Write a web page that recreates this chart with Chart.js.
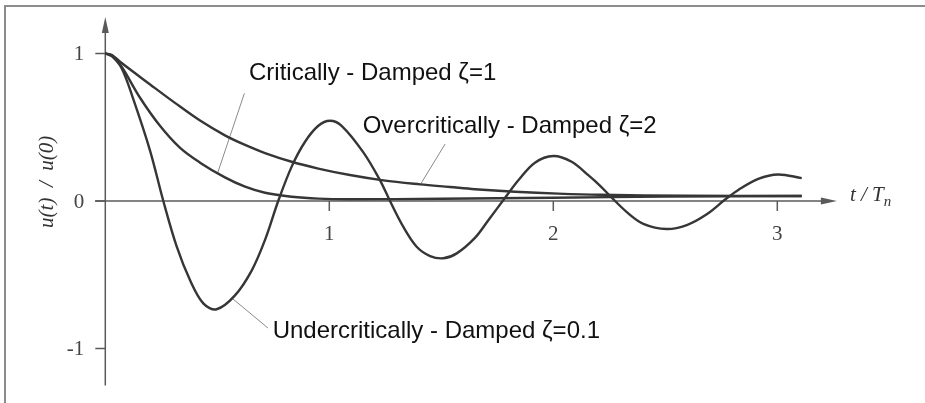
<!DOCTYPE html>
<html>
<head>
<meta charset="utf-8">
<script src="https://cdn.jsdelivr.net/npm/chart.js@4/dist/chart.umd.min.js"></script>
<style>
  html, body { margin: 0; padding: 0; background: #fff; }
  #wrap { position: relative; width: 925px; height: 403px; overflow: hidden; }
  #frame { position: absolute; left: 4px; top: 5px; width: 940px; height: 420px;
           border-top: 2px solid #8c8c8c; border-left: 2px solid #8c8c8c; pointer-events: none; }
  canvas { position: absolute; left: 0; top: 0; }
</style>
</head>
<body>
<div id="wrap">
  <canvas id="c" width="925" height="403"></canvas>
  <div id="frame"></div>
</div>
<script>
// Free-vibration response u(t)/u(0) against t/Tn for three damping ratios.

// Undercritically damped, zeta = 0.1
const underT = [0, 0.03, 0.073, 0.125, 0.2, 0.259, 0.319, 0.378, 0.4375, 0.497, 0.579, 0.654, 0.713,
  0.772, 0.832, 0.891, 0.951, 1.003, 1.055, 1.152, 1.226, 1.271, 1.33, 1.39, 1.45, 1.509, 1.569,
  1.65, 1.71, 1.784, 1.844, 1.918, 2.0, 2.082, 2.156, 2.208, 2.253, 2.328, 2.402, 2.506, 2.596,
  2.685, 2.767, 2.826, 2.915, 3.004, 3.109];
const underU = [1.0, 0.98, 0.90, 0.69, 0.34, 0.0, -0.31, -0.536, -0.694, -0.734, -0.64, -0.47, -0.264,
  0.0, 0.233, 0.40, 0.51, 0.544, 0.51, 0.33, 0.142, 0.0, -0.174, -0.31, -0.373, -0.388, -0.355,
  -0.25, -0.13, 0.02, 0.14, 0.26, 0.305, 0.266, 0.175, 0.105, 0.035, -0.075, -0.155, -0.19, -0.163,
  -0.09, 0.01, 0.075, 0.15, 0.18, 0.155];

// Critically damped, zeta = 1
const critT = [0, 0.03, 0.073, 0.155, 0.244, 0.334, 0.423, 0.534, 0.624, 0.713, 0.832, 0.951, 1.092,
  1.5, 2.0, 2.5, 3.109];
const critU = [1.0, 0.985, 0.91, 0.70, 0.51, 0.36, 0.26, 0.16, 0.097, 0.056, 0.029, 0.016, 0.012,
  0.015, 0.022, 0.03, 0.034];

// Overcritically damped, zeta = 2
const overT = [0, 0.03, 0.073, 0.2, 0.311, 0.423, 0.534, 0.624, 0.713, 0.832, 0.951, 1.092, 1.241,
  1.405, 1.539, 1.65, 1.829, 2.022, 2.208, 2.6, 3.109];
const overU = [1.0, 0.99, 0.935, 0.79, 0.665, 0.545, 0.445, 0.38, 0.325, 0.266, 0.22, 0.176, 0.14,
  0.113, 0.095, 0.08, 0.063, 0.05, 0.042, 0.036, 0.034];

// Axis ticks
const xTickValues = [1, 2, 3];
const xTickLabels = ['1', '2', '3'];
const yTickValues = [1, 0, -1];
const yTickLabels = ['1', '0', '-1'];

// Curve names
const curveNames = ['Critically - Damped \u03b6=1', 'Overcritically - Damped \u03b6=2',
  'Undercritically - Damped \u03b6=0.1'];

function pts(ts, us) { return ts.map((t, i) => ({ x: t, y: us[i] })); }

// Where each name sits (data units) and the short pointer line from name to curve
const annotations = [
  { text: curveNames[0], at: { x: 0.6415, y: 0.820 }, leader: [{ x: 0.621, y: 0.73 }, { x: 0.50, y: 0.183 }] },
  { text: curveNames[1], at: { x: 1.149, y: 0.461 }, leader: [{ x: 1.517, y: 0.386 }, { x: 1.408, y: 0.115 }] },
  { text: curveNames[2], at: { x: 0.747, y: -0.931 }, leader: [{ x: 0.570, y: -0.664 }, { x: 0.726, y: -0.861 }] }
];

const curveStyle = {
  borderColor: '#363636', borderWidth: 2.4, pointRadius: 0, fill: false, tension: 0.35
};
const leaderStyle = { borderColor: '#8a8a8a', borderWidth: 1, pointRadius: 0, fill: false, tension: 0 };

const axisColor = '#5a5a5a';

const axesPlugin = {
  id: 'axesPlugin',
  beforeDatasetsDraw(chart) {
    const { ctx, scales: { x, y } } = chart;
    const x0 = x.getPixelForValue(0);
    const y0 = y.getPixelForValue(0);
    ctx.save();
    ctx.strokeStyle = axisColor;
    ctx.fillStyle = axisColor;
    ctx.lineWidth = 1.5;

    // horizontal axis with arrow
    const xStart = x.getPixelForValue(-0.046);
    const xTip = x.getPixelForValue(3.266);
    ctx.beginPath();
    ctx.moveTo(xStart, y0);
    ctx.lineTo(xTip - 14, y0);
    ctx.stroke();
    ctx.beginPath();
    ctx.moveTo(xTip, y0);
    ctx.lineTo(xTip - 16, y0 - 3.5);
    ctx.lineTo(xTip - 16, y0 + 3.5);
    ctx.closePath();
    ctx.fill();

    // vertical axis with arrow
    const yBottom = y.getPixelForValue(-1.25);
    const yTip = y.getPixelForValue(1.247);
    ctx.beginPath();
    ctx.moveTo(x0, yBottom);
    ctx.lineTo(x0, yTip + 14);
    ctx.stroke();
    ctx.beginPath();
    ctx.moveTo(x0, yTip);
    ctx.lineTo(x0 - 3.5, yTip + 16);
    ctx.lineTo(x0 + 3.5, yTip + 16);
    ctx.closePath();
    ctx.fill();

    // ticks
    ctx.beginPath();
    yTickValues.forEach(v => {
      const py = y.getPixelForValue(v);
      ctx.moveTo(x0 - 10, py);
      ctx.lineTo(x0, py);
    });
    xTickValues.forEach(v => {
      const px = x.getPixelForValue(v);
      ctx.moveTo(px, y0);
      ctx.lineTo(px, y0 + 10);
    });
    ctx.stroke();

    // tick labels
    ctx.fillStyle = '#444';
    ctx.font = '21px "Liberation Serif", "DejaVu Serif", serif';
    ctx.textAlign = 'right';
    ctx.textBaseline = 'middle';
    yTickValues.forEach((v, i) => {
      ctx.fillText(yTickLabels[i], x0 - 21, y.getPixelForValue(v) + 1);
    });
    ctx.textAlign = 'center';
    ctx.textBaseline = 'alphabetic';
    xTickValues.forEach((v, i) => {
      ctx.fillText(xTickLabels[i], x.getPixelForValue(v), y0 + 39);
    });

    // axis titles
    ctx.fillStyle = '#333';
    ctx.font = 'italic 21px "Liberation Serif", "DejaVu Serif", serif';
    ctx.textAlign = 'left';
    ctx.fillText('t / T', xTip + 13, y0 + 0);
    const wT = ctx.measureText('t / T').width;
    ctx.font = 'italic 15px "Liberation Serif", "DejaVu Serif", serif';
    ctx.fillText('n', xTip + 13 + wT, y0 + 5);

    ctx.save();
    ctx.translate(x0 - 58, y.getPixelForValue(0.13));
    ctx.rotate(-Math.PI / 2);
    ctx.font = 'italic 21px "Liberation Serif", "DejaVu Serif", serif';
    ctx.textAlign = 'center';
    ctx.textBaseline = 'middle';
    ctx.fillText('u(t)  /  u(0)', 0, 0);
    ctx.restore();

    ctx.restore();
  },
  afterDatasetsDraw(chart) {
    const { ctx, scales: { x, y } } = chart;
    ctx.save();
    ctx.fillStyle = '#111';
    ctx.font = '24px "Liberation Sans", Arial, sans-serif';
    ctx.textAlign = 'left';
    ctx.textBaseline = 'alphabetic';
    annotations.forEach(a => {
      ctx.fillText(a.text, x.getPixelForValue(a.at.x), y.getPixelForValue(a.at.y));
    });
    ctx.restore();
  }
};

const datasets = [
  Object.assign({ label: 'zeta = 0.1', data: pts(underT, underU) }, curveStyle),
  Object.assign({ label: 'zeta = 1', data: pts(critT, critU) }, curveStyle),
  Object.assign({ label: 'zeta = 2', data: pts(overT, overU) }, curveStyle)
];
annotations.forEach((a, i) => {
  datasets.push(Object.assign({ label: 'pointer ' + i, data: a.leader }, leaderStyle));
});

new Chart(document.getElementById('c'), {
  type: 'line',
  data: { datasets },
  options: {
    responsive: false,
    animation: false,
    devicePixelRatio: 1,
    layout: { padding: { left: 94.1, right: 35.7, top: 16.6, bottom: 17.6 } },
    scales: {
      x: { type: 'linear', min: -0.05, max: 3.5, display: false },
      y: { type: 'linear', min: -1.25, max: 1.25, display: false }
    },
    plugins: { legend: { display: false }, tooltip: { enabled: false } }
  },
  plugins: [axesPlugin]
});
</script>
</body>
</html>
